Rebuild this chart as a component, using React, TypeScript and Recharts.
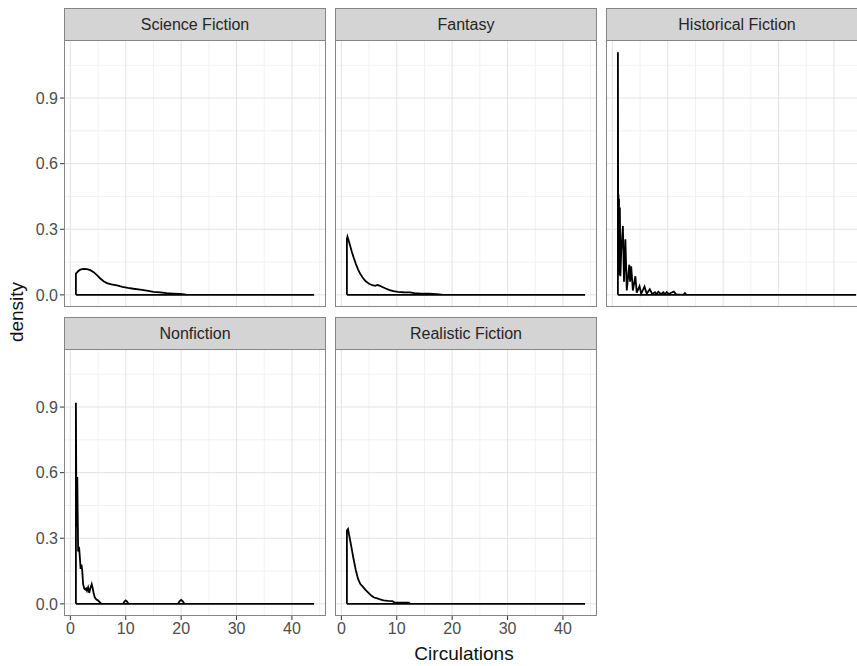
import { Line, LineChart, ReferenceLine, XAxis, YAxis } from "recharts";

// circulation range shared by every panel (density is drawn from min to max)
const circRange = [1, 44];

const xMajor = [0, 10, 20, 30, 40];
const xMinor = [5, 15, 25, 35, 45];
const yMajor = [0, 0.3, 0.6, 0.9];
const yMinor = [0.15, 0.45, 0.75, 1.05];

// density outlines: [circulations, density]
const sciFi = [
  [1, 0.097], [1.4, 0.108], [1.8, 0.116], [2.4, 0.119], [3.0, 0.118], [3.6, 0.113],
  [4.2, 0.104], [4.8, 0.09], [5.4, 0.075], [6.0, 0.062], [6.6, 0.054], [7.4, 0.048],
  [8.4, 0.043], [9.4, 0.037], [10.4, 0.032], [11.4, 0.028], [12.6, 0.024], [13.8, 0.019],
  [15.0, 0.014], [16.2, 0.011], [17.4, 0.008], [18.6, 0.006], [19.8, 0.004], [20.6, 0.002],
  [21, 0],
];

const fantasy = [
  [1, 0.255], [1.1, 0.266], [1.3, 0.25], [1.6, 0.224], [1.9, 0.196], [2.2, 0.172],
  [2.6, 0.143], [3.0, 0.117], [3.4, 0.096], [3.9, 0.077], [4.4, 0.062], [5.0, 0.051],
  [5.6, 0.044], [6.1, 0.041], [6.5, 0.045], [6.9, 0.042], [7.4, 0.036], [8.0, 0.029],
  [8.7, 0.022], [9.4, 0.017], [10.2, 0.014], [11.2, 0.012], [12.4, 0.011], [13.2, 0.008],
  [14.4, 0.006], [15.8, 0.005], [17.2, 0.003], [18.0, 0.001], [18.3, 0],
];

const historical = [
  [1, 1.11], [1.05, 0.3], [1.1, 0.46], [1.15, 0.09], [1.2, 0.44], [1.28, 0.1],
  [1.35, 0.4], [1.45, 0.085], [1.6, 0.2], [1.9, 0.315], [2.1, 0.06], [2.35, 0.254],
  [2.6, 0.02], [3.05, 0.138], [3.2, 0.06], [3.4, 0.13], [3.7, 0.02], [4.15, 0.085],
  [4.4, 0.01], [4.9, 0.04], [5.2, 0.005], [5.8, 0.038], [6.2, 0.005], [6.75, 0.026],
  [7.2, 0.004], [7.7, 0.012], [8.0, 0.003], [8.3, 0.014], [8.8, 0.003], [9.2, 0.012],
  [9.5, 0.003], [9.8, 0.013], [10.2, 0.003], [10.6, 0.01], [11.1, 0.015], [11.5, 0.002],
  [12.8, 0], [13.1, 0.008], [13.4, 0],
];

const nonfiction = [
  [1, 0.92], [1.1, 0.35], [1.25, 0.58], [1.4, 0.24], [1.6, 0.25], [1.75, 0.2],
  [1.85, 0.16], [2.0, 0.18], [2.15, 0.15], [2.3, 0.09], [2.5, 0.07], [2.7, 0.065],
  [2.85, 0.07], [3.0, 0.06], [3.2, 0.075], [3.4, 0.05], [3.6, 0.07], [3.85, 0.09],
  [4.0, 0.075], [4.2, 0.05], [4.4, 0.03], [4.7, 0.02], [5.0, 0.015], [5.3, 0.008],
  [5.6, 0], [9.5, 0], [9.8, 0.012], [10, 0.016], [10.2, 0.012], [10.5, 0],
  [19.4, 0], [19.7, 0.012], [20, 0.018], [20.3, 0.012], [20.6, 0],
];

const realistic = [
  [1, 0.335], [1.2, 0.342], [1.4, 0.315], [1.8, 0.262], [2.2, 0.205], [2.6, 0.155],
  [3.0, 0.115], [3.4, 0.092], [3.9, 0.078], [4.4, 0.063], [4.9, 0.05], [5.4, 0.038],
  [5.9, 0.029], [6.5, 0.025], [7.0, 0.02], [7.6, 0.016], [8.4, 0.014], [9.2, 0.013],
  [9.6, 0.006], [11.0, 0.005], [12.2, 0.005], [12.4, 0],
];

const panels = [
  { title: "Science Fiction", values: sciFi, col: 0, row: 0 },
  { title: "Fantasy", values: fantasy, col: 1, row: 0 },
  { title: "Historical Fiction", values: historical, col: 2, row: 0 },
  { title: "Nonfiction", values: nonfiction, col: 0, row: 1 },
  { title: "Realistic Fiction", values: realistic, col: 1, row: 1 },
];

// closed outline like geom_density: up from the baseline, along the curve, back along 0
function outline(values: number[][]) {
  const pts = [[circRange[0], 0], ...values, [circRange[1], 0], [circRange[0], 0]];
  return pts.map(([x, y]) => ({ x, y }));
}

const yMax = Math.max(...panels.flatMap((p) => p.values.map((v) => v[1])));
const xSpan = circRange[1] - circRange[0];
const xDomain = [circRange[0] - 0.05 * xSpan, circRange[1] + 0.05 * xSpan];
const yDomain = [-0.05 * yMax, yMax * 1.05];

const FONT = '"Liberation Sans", Arial, sans-serif';
const PANEL_W = 262;
const PANEL_H = 267;
const STRIP_H = 32;
const COL_LEFT = [64, 335, 606];
const ROW_TOP = [40, 349];
const Y_AXIS_W = 60;
const X_AXIS_H = 30;
const BORDER = "#858585";

function Panel({
  title,
  values,
  col,
  row,
}: {
  title: string;
  values: number[][];
  col: number;
  row: number;
}) {
  const showY = col === 0;
  const showX = row === 1;
  const left = COL_LEFT[col];
  const top = ROW_TOP[row];
  const chartLeft = showY ? left - Y_AXIS_W : left;
  const width = PANEL_W + (showY ? Y_AXIS_W : 0);
  const height = PANEL_H + (showX ? X_AXIS_H : 0);
  const tickStyle = { fontSize: 16, fill: "#4d4d4d", fontFamily: FONT };

  return (
    <>
      <div
        style={{
          position: "absolute",
          left,
          top: top - STRIP_H,
          width: PANEL_W,
          height: STRIP_H + 1,
          boxSizing: "border-box",
          background: "#d4d4d4",
          border: `1px solid ${BORDER}`,
          display: "flex",
          alignItems: "center",
          justifyContent: "center",
          fontFamily: FONT,
          fontSize: 16,
          color: "#262626",
        }}
      >
        {title}
      </div>
      <div style={{ position: "absolute", left: chartLeft, top }}>
        <LineChart
          width={width}
          height={height}
          data={outline(values)}
          margin={{ top: 0, right: 0, bottom: 0, left: 0 }}
        >
          <XAxis
            dataKey="x"
            type="number"
            domain={xDomain}
            allowDataOverflow
            ticks={xMajor}
            hide={!showX}
            height={X_AXIS_H}
            axisLine={false}
            tickLine={{ stroke: "#333" }}
            tickSize={4}
            tickMargin={3}
            tick={tickStyle}
            interval={0}
          />
          <YAxis
            type="number"
            domain={yDomain}
            allowDataOverflow
            ticks={yMajor}
            hide={!showY}
            width={Y_AXIS_W}
            axisLine={false}
            tickLine={{ stroke: "#333" }}
            tickSize={4}
            tickMargin={2}
            tick={tickStyle}
            tickFormatter={(v: number) => v.toFixed(1)}
            interval={0}
          />
          {xMinor.map((v) => (
            <ReferenceLine key={`xm${v}`} x={v} stroke="#f2f2f2" strokeWidth={1} />
          ))}
          {yMinor.map((v) => (
            <ReferenceLine key={`ym${v}`} y={v} stroke="#f2f2f2" strokeWidth={1} />
          ))}
          {xMajor.map((v) => (
            <ReferenceLine key={`xM${v}`} x={v} stroke="#e3e3e3" strokeWidth={1} />
          ))}
          {yMajor.map((v) => (
            <ReferenceLine key={`yM${v}`} y={v} stroke="#e3e3e3" strokeWidth={1} />
          ))}
          <Line
            dataKey="y"
            type="linear"
            stroke="#000"
            strokeWidth={1.8}
            dot={false}
            activeDot={false}
            isAnimationActive={false}
          />
        </LineChart>
      </div>
      <div
        style={{
          position: "absolute",
          left,
          top,
          width: PANEL_W,
          height: PANEL_H,
          boxSizing: "border-box",
          border: `1px solid ${BORDER}`,
          pointerEvents: "none",
        }}
      />
    </>
  );
}

export default function App() {
  return (
    <div
      style={{
        position: "absolute",
        left: 0,
        top: 0,
        width: 857,
        height: 666,
        overflow: "hidden",
        background: "#fff",
        fontFamily: FONT,
      }}
    >
      {panels.map((p) => (
        <Panel key={p.title} {...p} />
      ))}
      <div
        style={{
          position: "absolute",
          left: 464,
          top: 654,
          transform: "translate(-50%, -50%)",
          fontSize: 19,
          color: "#111",
          whiteSpace: "nowrap",
        }}
      >
        Circulations
      </div>
      <div
        style={{
          position: "absolute",
          left: 17,
          top: 312,
          transform: "translate(-50%, -50%) rotate(-90deg)",
          fontSize: 19,
          color: "#111",
          whiteSpace: "nowrap",
        }}
      >
        density
      </div>
    </div>
  );
}
